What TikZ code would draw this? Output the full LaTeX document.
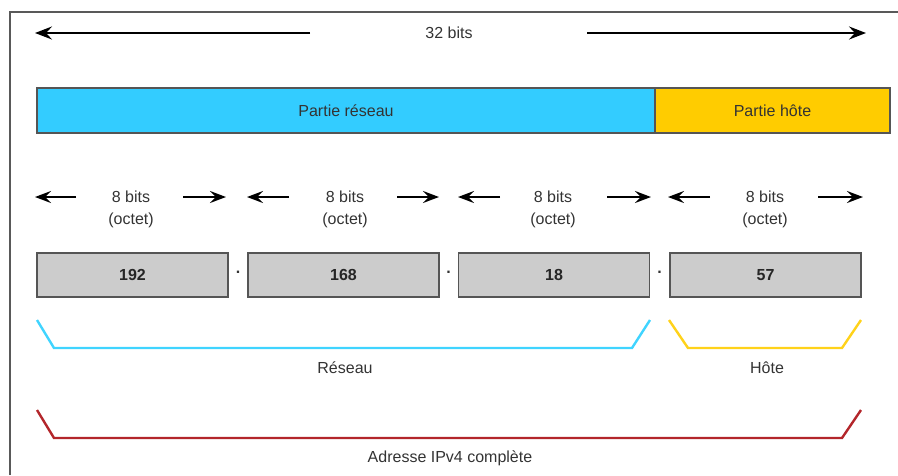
\documentclass[tikz,border=0pt]{standalone}
\usepackage{fontspec}
\setmainfont{Liberation Sans}
\usetikzlibrary{arrows.meta}

\definecolor{netblue}{HTML}{33CCFF}
\definecolor{hostyellow}{HTML}{FFCC00}
\definecolor{octgray}{HTML}{CCCCCC}
\definecolor{edgegray}{HTML}{555555}
\definecolor{txtgray}{HTML}{333333}
\definecolor{brblue}{HTML}{40D4FF}
\definecolor{bryellow}{HTML}{FFD21A}
\definecolor{brred}{HTML}{B3262B}

\tikzset{
  lbl/.style={font=\fontsize{16}{18}\selectfont, text=txtgray, inner sep=0pt},
  part/.style={draw=edgegray, line width=1.4pt, minimum height=45pt, inner sep=0pt,
               font=\fontsize{16}{18}\selectfont, text=txtgray},
  octbox/.style={draw=edgegray, line width=1.8pt, fill=octgray, minimum width=191pt,
                 minimum height=44pt, inner sep=0pt,
                 font=\fontsize{16}{18}\selectfont\bfseries, text=black!85},
  bigarrow/.style={line width=2.6pt, -{Stealth[length=17pt,width=13pt,inset=6pt]}},
  octarrow/.style={line width=2.4pt, -{Stealth[length=16pt,width=12pt,inset=6pt]}},
  bracket/.style={line width=2.4pt, line join=miter},
}

\begin{document}
\begin{tikzpicture}[x=1pt,y=-1pt]
\useasboundingbox (0,0) rectangle (898,475);

% frame edges
\draw[gray!70!black, line width=1.2pt] (10,475) -- (10,12) -- (898,12);

% total width
\node[lbl] (total) at (449,33) {32 bits};
\coordinate (totL) at (310,33);
\coordinate (totLtip) at (35,33);
\coordinate (totR) at (587,33);
\coordinate (totRtip) at (866,33);
\draw[bigarrow] (totL) -- (totLtip);
\draw[bigarrow] (totR) -- (totRtip);

% network / host split
\node[part, fill=netblue, minimum width=618pt] (net) at (346,110.5) {Partie réseau};
\node[part, fill=hostyellow, minimum width=235pt] (host) at (772.5,110.5) {Partie hôte};

% octet size labels with arrows
\foreach \i/\cx/\lt/\lb/\rb/\rt in {1/131/35/76/183/226, 2/345/247/289/397/439,
                                     3/553/458/500/607/651, 4/765/668/710/818/863}{
  \node[lbl] (bits\i) at (\cx,197) {8 bits};
  \node[lbl] (octet\i) at (\cx,220) {(octet)};
  \coordinate (l\i tail) at (\lb,197);
  \coordinate (l\i tip) at (\lt,197);
  \coordinate (r\i tail) at (\rb,197);
  \coordinate (r\i tip) at (\rt,197);
  \draw[octarrow] (l\i tail) -- (l\i tip);
  \draw[octarrow] (r\i tail) -- (r\i tip);
}

% the four octets of the address
\node[octbox] (o1) at (132.5,275) {192};
\node[octbox] (o2) at (343.5,275) {168};
\node[octbox] (o3) at (554,275) {18};
\node[octbox] (o4) at (765.5,275) {57};
\node[lbl, font=\fontsize{16}{18}\selectfont\bfseries] (d1) at (238,272) {.};
\node[lbl, font=\fontsize{16}{18}\selectfont\bfseries] (d2) at (448.5,272) {.};
\node[lbl, font=\fontsize{16}{18}\selectfont\bfseries] (d3) at (659.5,272) {.};

% network bracket
\coordinate (nb1) at (37,320);
\coordinate (nb2) at (54,348);
\coordinate (nb3) at (632,348);
\coordinate (nb4) at (650,320);
\draw[bracket, brblue] (nb1) -- (nb2) -- (nb3) -- (nb4);
\node[lbl] (netlbl) at (345,368) {Réseau};

% host bracket
\coordinate (hb1) at (669,320);
\coordinate (hb2) at (688,348);
\coordinate (hb3) at (842,348);
\coordinate (hb4) at (861,320);
\draw[bracket, bryellow] (hb1) -- (hb2) -- (hb3) -- (hb4);
\node[lbl] (hostlbl) at (767,368) {Hôte};

% full address bracket
\coordinate (ab1) at (37,410);
\coordinate (ab2) at (54,438);
\coordinate (ab3) at (842,438);
\coordinate (ab4) at (861,410);
\draw[bracket, brred] (ab1) -- (ab2) -- (ab3) -- (ab4);
\node[lbl] (fulllbl) at (450,458) {Adresse IPv4 complète};
\end{tikzpicture}
\end{document}
